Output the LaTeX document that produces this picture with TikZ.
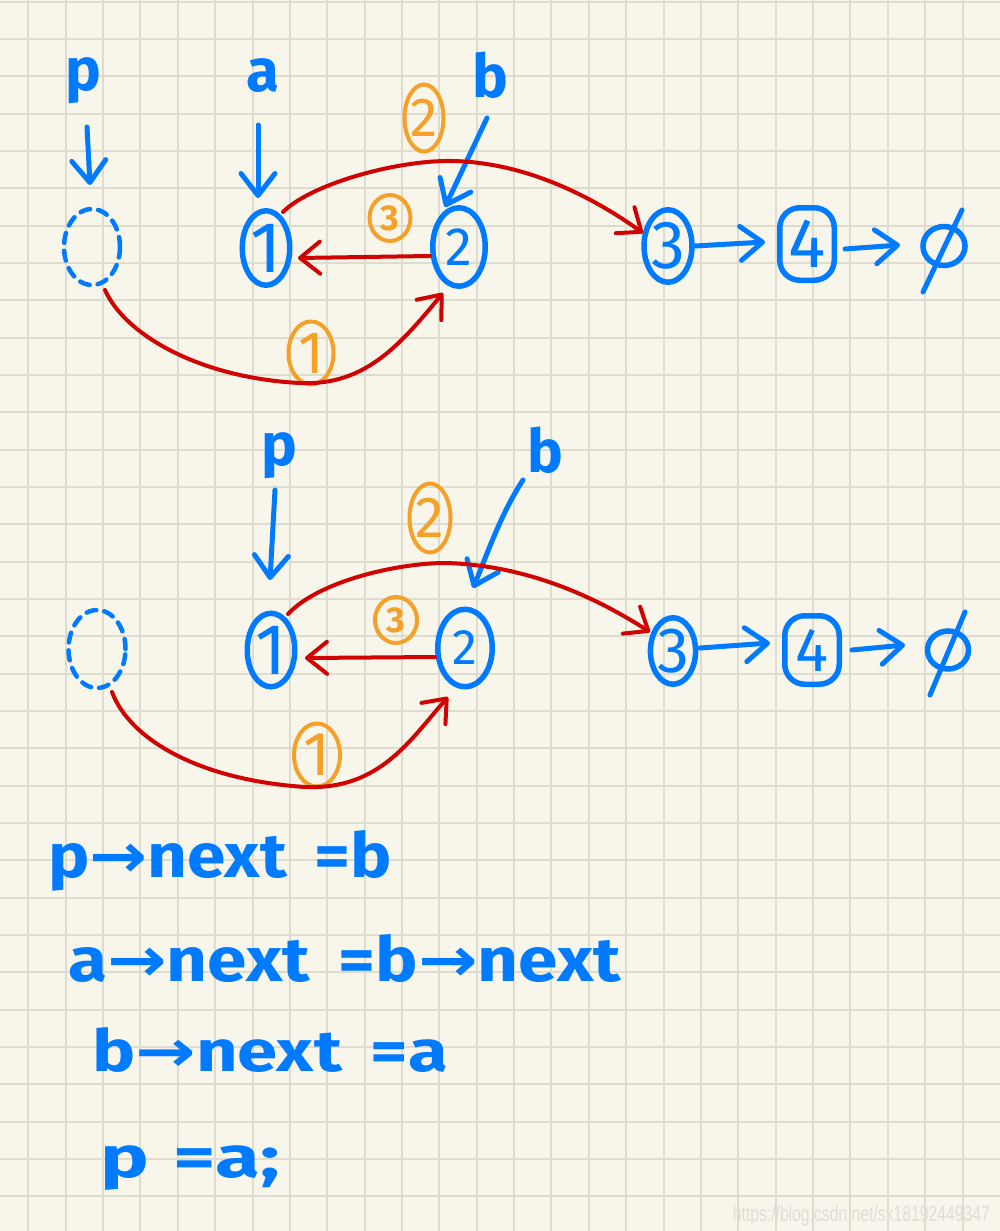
\documentclass[tikz,border=0pt]{standalone}
\usepackage{fontspec}
\usepackage{graphicx}
\setmainfont{Fira Sans}
\newfontfamily\arrfont{DejaVu Sans}
\newfontfamily\wmfont{Liberation Sans}
\usetikzlibrary{shapes.geometric,arrows.meta,calc}
\definecolor{paper}{RGB}{248,246,235}
\definecolor{gridc}{RGB}{222,220,207}
\definecolor{hblue}{RGB}{0,122,255}
\definecolor{hred}{RGB}{208,2,2}
\definecolor{horange}{RGB}{245,160,40}
\definecolor{wmc}{RGB}{222,222,216}
\newcommand{\fs}[1]{\fontsize{#1}{#1}\selectfont}
\newcommand{\rar}{{\arrfont\bfseries →}}
\begin{document}
\begin{tikzpicture}[x=1pt,y=-1pt,
  bnode/.style={ellipse, draw=hblue, line width=5.5pt, inner sep=0pt, text=hblue},
  bsq/.style={rectangle, rounded corners=20pt, draw=hblue, line width=5.5pt, inner sep=0pt, text=hblue},
  onode/.style={ellipse, draw=horange, line width=4pt, inner sep=0pt, text=horange},
  dnode/.style={ellipse, draw=hblue, line width=4.5pt, dash pattern=on 10pt off 8pt, line cap=round, inner sep=0pt},
  lbl/.style={text=hblue, inner sep=0pt, anchor=base, font={\fs{60}\bfseries}},
  code/.style={text=hblue, inner sep=0pt, anchor=base west, font={\fs{62}\bfseries}},
  redarr/.style={draw=hred, line width=4pt, line cap=round, -{Straight Barb[length=20pt,width=32pt,round]}},
  bluearr/.style={draw=hblue, line width=5pt, line cap=round, -{Straight Barb[length=22pt,width=34pt,round]}},
  bline/.style={draw=hblue, line width=5pt, line cap=round},
]
\fill[paper] (0,0) rectangle (1000,1231);
\useasboundingbox (0,0) rectangle (1000,1231);
\foreach \i in {0,...,25} {\draw[gridc, line width=2pt] ({28.3+37.37*\i},0) -- ({28.3+37.37*\i},1231);}
\foreach \j in {0,...,32} {\draw[gridc, line width=2pt] (0,{1.7+37.33*\j}) -- (1000,{1.7+37.33*\j});}

% ---------- top diagram ----------
\node[dnode, minimum width=56pt, minimum height=76pt] (td) at (92,247) {};
\node[bnode, minimum width=47.5pt, minimum height=74.5pt, font={\fs{72}}] (n1) at (266,248) {1};
\node[bnode, minimum width=52.5pt, minimum height=78.5pt, font={\fs{54}}] (n2) at (459,247) {2};
\node[bnode, minimum width=41.5pt, minimum height=72.5pt, font={\fs{68}}] (n3) at (668,246) {3};
\node[bsq, minimum width=54.5pt, minimum height=72.5pt, font={\fs{70}}] (n4) at (807,244) {4};
\node[ellipse, draw=hblue, line width=5.5pt, minimum width=42pt, minimum height=39pt, inner sep=0pt] (z1) at (944,246) {};
\draw[bline] ($(z1)+(18,-36)$) -- ($(z1)+(-21,46)$);

\node[onode, minimum width=39pt, minimum height=67pt, font={\fs{55}}] (o2) at (424,118) {2};
\node[onode, minimum width=41pt, minimum height=46pt, font={\fs{36}\bfseries}] (o3) at (390,218) {3};
\node[onode, minimum width=45pt, minimum height=63pt, font={\fs{60}}] (o1) at (311,353) {1};

\node[lbl] (tp) at (83,90) {p};
\node[lbl] (ta) at (263,92) {a};
\node[lbl] (tb) at (490,97) {b};

\draw[bluearr] ($(tp.base)+(4,37)$) -- ($(td)+(-2,-62)$);
\draw[bluearr] ($(ta.base)+(-5,33)$) -- ($(n1)+(-8,-50)$);
\draw[bluearr] ($(tb.base)+(-3,21)$) -- ($(n2)+(-14,-40)$);
\draw[bluearr] ($(n3)+(27,0)$) -- ($(n4)+(-42,-2)$);
\draw[bluearr] ($(n4)+(38,5)$) -- ($(z1)+(-44,-1)$);

\draw[redarr] ($(n1)+(17,-36)$) .. controls (310,185) and (390,162) .. (445,161)
  .. controls (520,160) and (590,195) .. ($(n3)+(-25,-13)$);
\draw[redarr] ($(n2)+(-29,9)$) -- ($(n1)+(32,10)$);
\draw[redarr] ($(td)+(13,43)$) .. controls (125,335) and (200,378) .. (300,383)
  .. controls (365,386) and (400,345) .. ($(n2)+(-16,46)$);

% ---------- bottom diagram ----------
\node[dnode, minimum width=57pt, minimum height=78pt] (bd) at (97,649) {};
\node[bnode, minimum width=47.5pt, minimum height=73.5pt, font={\fs{72}}] (m1) at (271,650) {1};
\node[bnode, minimum width=54.5pt, minimum height=77.5pt, font={\fs{50}}] (m2) at (465,648) {2};
\node[bnode, minimum width=41.5pt, minimum height=66.5pt, font={\fs{64}}] (m3) at (673,651) {3};
\node[bsq, minimum width=54.5pt, minimum height=68.5pt, font={\fs{62}}] (m4) at (812,650) {4};
\node[ellipse, draw=hblue, line width=5.5pt, minimum width=41pt, minimum height=38pt, inner sep=0pt] (z2) at (948,650) {};
\draw[bline] ($(z2)+(17,-38)$) -- ($(z2)+(-18,45)$);

\node[onode, minimum width=41pt, minimum height=69pt, font={\fs{58}}] (q2) at (430,518) {2};
\node[onode, minimum width=42pt, minimum height=46pt, font={\fs{36}\bfseries}] (q3) at (396,620) {3};
\node[onode, minimum width=46pt, minimum height=63pt, font={\fs{62}}] (q1) at (317,755) {1};

\node[lbl] (bp) at (279,465) {p};
\node[lbl] (bb) at (545,472) {b};

\draw[bluearr] ($(bp.base)+(-4,25)$) -- ($(m1)+(-1,-70)$);
\draw[bluearr] ($(bb.base)+(-22,8)$) .. controls (500,515) and (485,560) .. ($(m2)+(8,-60)$);
\draw[bluearr] ($(m3)+(27,-3)$) -- ($(m4)+(-42,-7)$);
\draw[bluearr] ($(m4)+(40,0)$) -- ($(z2)+(-43,-5)$);

\draw[redarr] ($(m1)+(17,-36)$) .. controls (320,580) and (400,563) .. (445,563)
  .. controls (530,565) and (600,600) .. ($(m3)+(-23,-19)$);
\draw[redarr] ($(m2)+(-30,9)$) -- ($(m1)+(34,8)$);
\draw[redarr] ($(bd)+(15,43)$) .. controls (130,740) and (200,780) .. (305,787)
  .. controls (380,790) and (410,740) .. ($(m2)+(-17,49)$);

% ---------- code ----------
\node[code] (c1) at (48,877) {\resizebox{344pt}{\height}{p\rar next\hspace{0.4em}=b}};
\node[code] (c2) at (68,981) {\resizebox{553pt}{\height}{a\rar next\hspace{0.4em}=b\rar next}};
\node[code, font={\fs{58}\bfseries}] (c3) at (92,1071) {\resizebox{356pt}{\height}{b\rar next\hspace{0.4em}=a}};
\node[code, font={\fs{58}\bfseries}] (c4) at (100,1177) {\resizebox{180pt}{\height}{p\hspace{0.3em}=a;}};

\node[anchor=base east, inner sep=0pt, text=wmc, font={\wmfont\fs{22}}] (wm) at (990,1221) {\resizebox{257pt}{\height}{https://blog.csdn.net/sk18192449347}};
\end{tikzpicture}
\end{document}
